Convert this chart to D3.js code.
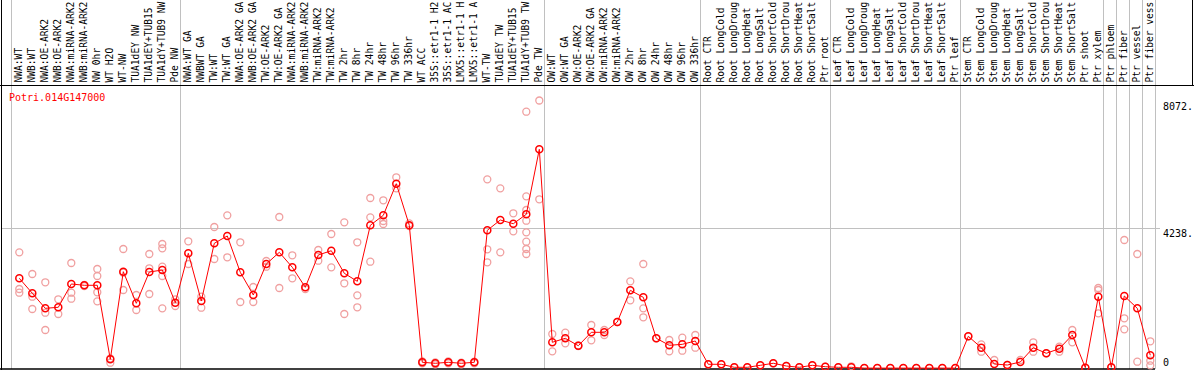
<!DOCTYPE html>
<html>
<head>
<meta charset="utf-8">
<script src="https://cdn.jsdelivr.net/npm/d3@7"></script>
<style>
  body { margin: 0; background: #fff; }
  text { font-family: "DejaVu Sans Mono", monospace; }
</style>
</head>
<body>
<figure id="chart" style="margin:0"></figure>
<script>
const geneName = "Potri.014G147000";

const categories = [
  "NWA:WT", "NWB:WT", "NWA:OE-ARK2", "NWB:OE-ARK2", "NWA:miRNA-ARK2", "NWB:miRNA-ARK2",
  "NW 0hr", "WT H2O", "WT-NW", "TUA1dEY NW", "TUA1dEY+TUB15", "TUA1dY+TUB9 NW", "Pde NW",
  "NWA:WT GA", "NWBWT GA", "TW:WT", "TW:WT GA", "NWA:OE-ARK2 GA", "NWB:OE-ARK2 GA",
  "TW:OE-ARK2", "TW:OE-ARK2 GA", "NWA:miRNA-ARK2", "NWB:miRNA-ARK2", "TW:miRNA-ARK2",
  "TW:miRNA-ARK2", "TW 2hr", "TW 8hr", "TW 24hr", "TW 48hr", "TW 96hr", "TW 336hr",
  "WT ACC", "35S::etr1-1 H2", "35S::etr1-1 AC", "LMX5::etr1-1 H", "LMX5::etr1-1 A",
  "WT-TW", "TUA1dEY TW", "TUA1dEY+TUB15", "TUA1dY+TUB9 TW", "Pde TW",
  "OW:WT", "OW:WT GA", "OW:OE-ARK2", "OW:OE-ARK2 GA", "OW:miRNA-ARK2", "OW:miRNA-ARK2",
  "OW 2hr", "OW 8hr", "OW 24hr", "OW 48hr", "OW 96hr", "OW 336hr",
  "Root CTR", "Root LongCold", "Root LongDroug", "Root LongHeat", "Root LongSalt",
  "Root ShortCold", "Root ShortDrou", "Root ShortHeat", "Root ShortSalt", "Ptr root",
  "Leaf CTR", "Leaf LongCold", "Leaf LongDroug", "Leaf LongHeat", "Leaf LongSalt",
  "Leaf ShortCold", "Leaf ShortDrou", "Leaf ShortHeat", "Leaf ShortSalt", "Ptr leaf",
  "Stem CTR", "Stem LongCold", "Stem LongDroug", "Stem LongHeat", "Stem LongSalt",
  "Stem ShortCold", "Stem ShortDrou", "Stem ShortHeat", "Stem ShortSalt", "Ptr shoot",
  "Ptr xylem", "Ptr phloem", "Ptr fiber", "Ptr vessel", "Ptr fiber vess"
];

// index of the first category of each sample group (a grid line is drawn before it)
const groupStarts = [0, 13, 41, 53, 63, 73, 84, 85, 86, 87];

const means = [
  2713, 2261, 1808, 1839, 2541, 2502, 2502, 271, 2912, 1959, 2902, 2963, 1977,
  3466, 2028, 3768, 3988, 2893, 2209, 3144, 3496, 3044, 2441, 3415, 3544, 2863, 2622,
  4310, 4611, 5564, 4310, 181, 151, 181, 151, 181, 4159, 4470, 4358, 4642, 6601,
  784, 904, 681, 1085, 1085, 1395, 2351, 2140, 904, 693, 723, 823,
  121, 121, 30, 30, 90, 151, 69, 30, 90, 48,
  30, 30, 6, 6, 6, 6, 6, 6, 6, 6,
  964, 621, 130, 99, 190, 621, 452, 591, 1004, 20, 2158,
  30, 2179, 1808, 392
];

const replicates = [
  [3496, 2390, 2279], [2842, 2158, 1787], [2592, 1676, 1154], [2080, 1637],
  [3174, 2279, 2098], [2511, 2480], [2993, 2782, 2291, 2019], [301, 169],
  [3596, 2881, 2360], [2209, 1757], [3445, 3014, 2239], [3746, 3617, 3062, 2782, 1808],
  [2080, 1878],
  [3828, 3144], [2158, 1826], [4259, 3294], [4611, 3346], [3798, 1998], [2450, 1998],
  [3234, 3062], [4560, 2420], [3406, 2713], [2390], [3566, 3243], [4048, 3044],
  [4400, 2562, 1637], [3798, 2200, 1839], [5133, 4551, 3213], [5064, 4440, 4349],
  [5757, 5425], [4370, 4289], [150, 210], [120, 180], [150, 210], [120, 170], [150, 200],
  [5696, 3587, 3195], [5425, 3496], [4672, 4129],
  [7734, 5184, 4771, 4449, 4099, 3816, 3596, 3445], [8072, 5094],
  [1034, 512], [1073, 754], [690, 670], [1305, 844], [1154, 1004], [1395],
  [2622, 2050], [3144, 1808, 1537], [904], [853, 512], [922, 530], [1004, 621],
  [121], [121], [30], [30], [90], [151], [69], [30], [90], [48],
  [30], [60], [6], [6], [6], [6], [6], [6], [6], [6],
  [964], [723, 500], [250], [99], [250], [784, 500], [452], [651, 500], [1154, 784],
  [20], [2420, 2360, 1658],
  [30], [3867, 1507, 1175], [3445, 199], [814, 229, 90]
];

const yTicks = [0, 4238, 8072];
const yTickLabels = ["0", "4238.", "8072."];

const width = 1194, height = 370;
const headerH = 85;

const svg = d3.select("figure#chart")
  .append("svg")
  .attr("width", width)
  .attr("height", height);

// several sample names repeat, so the band scale is keyed by index
const x = d3.scaleBand()
  .domain(d3.range(categories.length))
  .range([11, 11 + categories.length * 13])
  .padding(0);
const px = i => x(i) + 8.3;

const y = d3.scaleLinear()
  .domain([0, 8072])
  .range([368.3, 100.5]);

const plotRight = x.range()[1];

// horizontal grid line
svg.append("line")
  .attr("x1", 1).attr("x2", plotRight + 5)
  .attr("y1", Math.round(y(4238)) + 0.5).attr("y2", Math.round(y(4238)) + 0.5)
  .attr("stroke", "#c0c0c0");

// vertical group lines
svg.selectAll("line.group")
  .data(groupStarts.map(i => x(i)).concat([plotRight]))
  .enter()
  .append("line")
  .attr("class", "group")
  .attr("x1", d => Math.round(d) + 0.5).attr("x2", d => Math.round(d) + 0.5)
  .attr("y1", 0).attr("y2", 369)
  .attr("stroke", "#c0c0c0");

// frame
svg.append("line").attr("x1", 0).attr("x2", width).attr("y1", headerH + 0.5).attr("y2", headerH + 0.5).attr("stroke", "#000");
svg.append("line").attr("x1", 1.5).attr("x2", 1.5).attr("y1", 0).attr("y2", 370).attr("stroke", "#000");
svg.append("line").attr("x1", width - 1.5).attr("x2", width - 1.5).attr("y1", 0).attr("y2", headerH).attr("stroke", "#000");
svg.append("line").attr("x1", 0).attr("x2", plotRight).attr("y1", 369).attr("y2", 369).attr("stroke", "#000").attr("stroke-width", 1.5);

// column labels
svg.selectAll("text.cat")
  .data(categories)
  .enter()
  .append("text")
  .attr("class", "cat")
  .attr("transform", (d, i) => "translate(" + (x(i) + 10.8) + ",82.5)rotate(-90)")
  .attr("text-anchor", "start")
  .style("font-size", "9.6px")
  .attr("fill", "#000")
  .text(d => d);

// y tick labels on the right
svg.selectAll("text.tick")
  .data(yTicks)
  .enter()
  .append("text")
  .attr("class", "tick")
  .attr("x", 1163)
  .attr("y", d => Math.min(y(d) + 9, 365.5))
  .style("font-size", "10px")
  .attr("fill", "#000")
  .text((d, i) => yTickLabels[i]);

// gene name
svg.append("text")
  .attr("x", 9)
  .attr("y", 100.5)
  .style("font-size", "10px")
  .attr("fill", "#f00")
  .text(geneName);

// replicate points
const reps = [];
replicates.forEach((r, i) => r.forEach(v => reps.push({ i: i, v: v })));
svg.selectAll("circle.rep")
  .data(reps)
  .enter()
  .append("circle")
  .attr("class", "rep")
  .attr("cx", d => px(d.i))
  .attr("cy", d => y(d.v))
  .attr("r", 3.5)
  .attr("fill", "none")
  .attr("stroke", "#f0a0a0")
  .attr("stroke-width", 1.3);

// mean line
const line = d3.line()
  .x((d, i) => px(i))
  .y(d => y(d));
svg.append("path")
  .datum(means)
  .attr("d", line)
  .attr("fill", "none")
  .attr("stroke", "#f00")
  .attr("stroke-width", 1);

svg.selectAll("circle.mean")
  .data(means)
  .enter()
  .append("circle")
  .attr("class", "mean")
  .attr("cx", (d, i) => px(i))
  .attr("cy", d => y(d))
  .attr("r", 3.5)
  .attr("fill", "none")
  .attr("stroke", "#f00")
  .attr("stroke-width", 1.5);
</script>
</body>
</html>
